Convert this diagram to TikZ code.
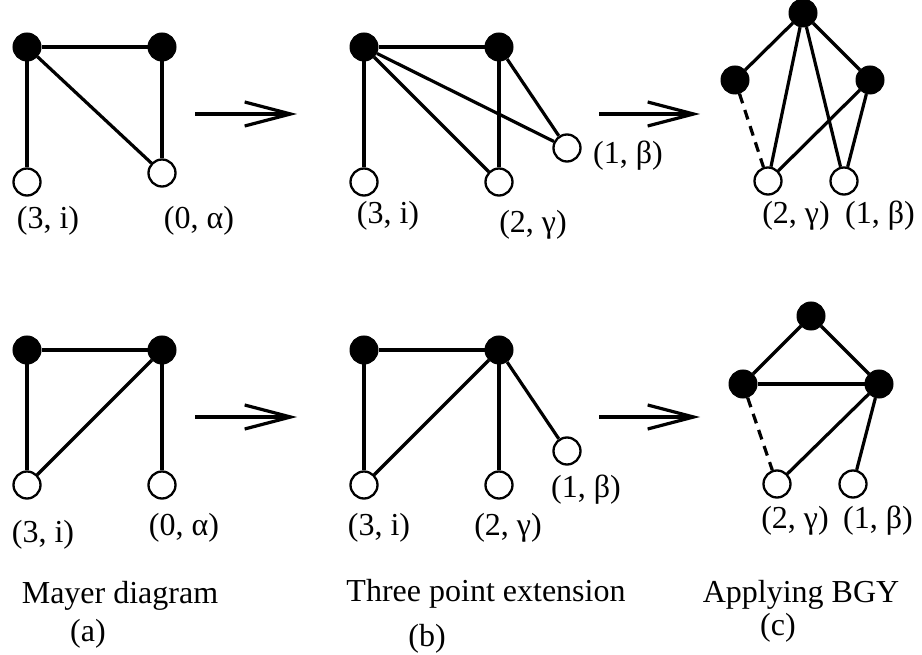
\documentclass[tikz,border=0pt]{standalone}
\usepackage{fontspec}
\setmainfont{Liberation Serif}
\usetikzlibrary{arrows.meta}

\begin{document}
\begin{tikzpicture}[x=1pt, y=-1pt, line width=3.2pt,
		full/.style = {draw, circle, fill=black, minimum size=28pt, inner sep=0pt, line width=1pt},
		empty/.style = {draw, circle, fill=white, minimum size=27pt, inner sep=0pt, line width=2.3pt},
		lbl/.style = {font=\fontsize{32}{36}\selectfont, inner sep=0pt},
		yields/.style = {-{Straight Barb[length=46pt, width=24pt]}, line width=3.2pt}]
			\useasboundingbox (0,0) rectangle (922,655);
			% top row
			\node[full] (a1) at (27,47) {};
			\node[full] (a2) at (162,47) {};
			\node[empty] (a3) at (27,182) {};
			\node[empty] (a4) at (162,173) {};
			\draw (a1) -- (a2);
			\draw (a1) -- (a3);
			\draw (a1) -- (a4);
			\draw (a2) -- (a4);
			\node[lbl] (la3) at (48,221) {(3, i)};
			\node[lbl] (la4) at (199,221) {(0, α)};
			\coordinate (s1) at (195,114);
			\coordinate (t1) at (297,114);
			\draw[yields] (s1) -- (t1);
			\node[full] (b1) at (364,47) {};
			\node[full] (b2) at (499,47) {};
			\node[empty] (b3) at (364,182) {};
			\node[empty] (b4) at (499,182) {};
			\node[empty] (b5) at (567,148) {};
			\draw (b1) -- (b2);
			\draw (b1) -- (b3);
			\draw (b1) -- (b4);
			\draw (b1) -- (b5);
			\draw (b2) -- (b4);
			\draw (b2) -- (b5);
			\node[lbl] (lb3) at (388,216) {(3, i)};
			\node[lbl] (lb4) at (533,225) {(2, γ)};
			\node[lbl] (lb5) at (628,156) {(1, β)};
			\coordinate (s2) at (599,114);
			\coordinate (t2) at (700,114);
			\draw[yields] (s2) -- (t2);
			\node[full] (c1) at (803,13) {};
			\node[full] (c2) at (735,80) {};
			\node[full] (c3) at (870,80) {};
			\node[empty] (c4) at (768,181) {};
			\node[empty] (c5) at (844,181) {};
			\draw (c1) -- (c2);
			\draw (c1) -- (c3);
			\draw (c1) -- (c4);
			\draw (c1) -- (c5);
			\draw (c3) -- (c4);
			\draw (c3) -- (c5);
			\draw[dash pattern=on 10pt off 7pt] (c2) -- (c4);
			\node[lbl] (lc4) at (796,216) {(2, γ)};
			\node[lbl] (lc5) at (880,216) {(1, β)};
			% bottom row
			\node[full] (d1) at (27,350) {};
			\node[full] (d2) at (162,350) {};
			\node[empty] (d3) at (27,485) {};
			\node[empty] (d4) at (162,485) {};
			\draw (d1) -- (d2);
			\draw (d1) -- (d3);
			\draw (d2) -- (d3);
			\draw (d2) -- (d4);
			\node[lbl] (ld3) at (43,535) {(3, i)};
			\node[lbl] (ld4) at (184,528) {(0, α)};
			\coordinate (s3) at (195,417);
			\coordinate (t3) at (297,417);
			\draw[yields] (s3) -- (t3);
			\node[full] (e1) at (364,350) {};
			\node[full] (e2) at (499,350) {};
			\node[empty] (e3) at (364,485) {};
			\node[empty] (e4) at (499,485) {};
			\node[empty] (e5) at (567,451) {};
			\draw (e1) -- (e2);
			\draw (e1) -- (e3);
			\draw (e2) -- (e3);
			\draw (e2) -- (e4);
			\draw (e2) -- (e5);
			\node[lbl] (le3) at (379,528) {(3, i)};
			\node[lbl] (le4) at (508,528) {(2, γ)};
			\node[lbl] (le5) at (586,490) {(1, β)};
			\coordinate (s4) at (599,417);
			\coordinate (t4) at (700,417);
			\draw[yields] (s4) -- (t4);
			\node[full] (f1) at (811,316) {};
			\node[full] (f2) at (743,384) {};
			\node[full] (f3) at (879,384) {};
			\node[empty] (f4) at (777,484) {};
			\node[empty] (f5) at (853,484) {};
			\draw (f1) -- (f2);
			\draw (f1) -- (f3);
			\draw (f2) -- (f3);
			\draw (f3) -- (f4);
			\draw (f3) -- (f5);
			\draw[dash pattern=on 10pt off 7pt] (f2) -- (f4);
			\node[lbl] (lf4) at (795,521) {(2, γ)};
			\node[lbl] (lf5) at (878,521) {(1, β)};
			% captions
			\node[lbl, anchor=base] (capa) at (120,603) {Mayer diagram};
			\node[lbl, anchor=base] (pa) at (88,641) {(a)};
			\node[lbl, anchor=base] (capb) at (486,601) {Three point extension};
			\node[lbl, anchor=base] (pb) at (427,646) {(b)};
			\node[lbl, anchor=base] (capc) at (801,602) {Applying BGY};
			\node[lbl, anchor=base] (pc) at (778,635) {(c)};
		\end{tikzpicture}
\end{document}
